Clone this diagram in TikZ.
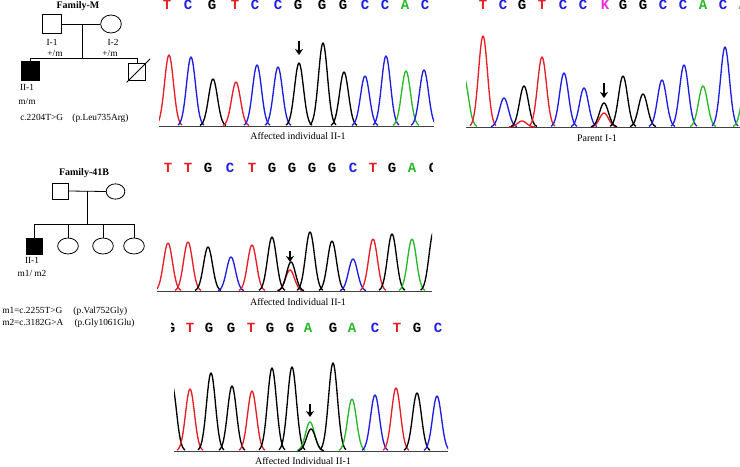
\documentclass[tikz,border=0pt]{standalone}
\usepackage{fontspec}
\setmainfont{Liberation Serif}
\newfontfamily\seqfont{Liberation Mono}
\usetikzlibrary{shapes.geometric,arrows.meta,positioning,calc}

\definecolor{trred}{RGB}{232,30,38}
\definecolor{trblue}{RGB}{30,30,225}
\definecolor{trgreen}{RGB}{40,185,40}
\definecolor{trmag}{RGB}{230,50,220}

\begin{document}
\begin{tikzpicture}[
    x=0.75pt, y=-0.75pt,
    font=\fontsize{7}{8}\selectfont,
    male/.style={draw, line width=0.6pt, minimum size=14pt, inner sep=0pt},
    female/.style={draw, ellipse, line width=0.6pt, minimum width=15pt, minimum height=13pt, inner sep=0pt},
    affected/.style={male, fill=black},
    famlabel/.style={font=\fontsize{7.5}{9}\selectfont\bfseries, inner sep=0pt},
    tag/.style={inner sep=0pt},
    caption/.style={font=\fontsize{7.5}{9}\selectfont, inner sep=0pt},
    nucleotide/.style={font=\seqfont\bfseries\fontsize{10.5}{11}\selectfont, inner sep=0pt},
    trace/.style={line width=1pt, line join=round},
    axisline/.style={line width=0.6pt, black!75},
    mutarrow/.style={-{Stealth[length=4.5pt, width=6pt]}, line width=1.1pt},
    link/.style={line width=0.6pt}
]
\fill[white] (0,0) rectangle (740,467);
\useasboundingbox (0,0) rectangle (740,467);

% Family-M pedigree
\node[famlabel] (famM) at (78,6) {Family-M};
\node[male] (mI1) at (52,24) {};
\node[female, minimum width=15.5pt, minimum height=13.5pt] (mI2) at (111,24) {};
\draw[link] (mI1.east) -- (mI2.west);
\coordinate (mMid) at (82,24);
\coordinate (mSibL) at (30.5,58);
\coordinate (mSibR) at (137,58);
\draw[link] (mMid) -- (mMid |- mSibL);
\draw[link] (mSibL) -- (mSibR);
\node[affected] (mII1) at (30.5,71) {};
\node[male, minimum size=13pt] (mII2) at (137,72) {};
\draw[link] (mSibL) -- (mII1.north);
\draw[link] (mSibR) -- (mII2.north);
\draw[link] ($(mII2.south west)+(-1pt,-1pt)$) -- ($(mII2.north east)+(3pt,3pt)$);
\node[tag] (mI1name) at (52,42) {I-1};
\node[tag] (mI1gt) at (55,53) {+/m};
\node[tag] (mI2name) at (113,42) {I-2};
\node[tag] (mI2gt) at (110,53) {+/m};
\node[tag] (mII1name) at (27,87) {II-1};
\node[tag] (mII1gt) at (27,101) {m/m};
\node[tag, anchor=west] (mVar) at (20,118) {c.2204T>G\quad(p.Leu735Arg)};

% Family-41B pedigree
\node[famlabel] (famB) at (84,173) {Family-41B};
\node[male, minimum size=12pt] (bI1) at (60,191) {};
\node[female, minimum width=14pt, minimum height=11.5pt] (bI2) at (115.5,191.5) {};
\draw[link] (bI1.east) -- (bI2.west);
\coordinate (bMid) at (87,191);
\coordinate (bSibL) at (34,224);
\coordinate (bSibR) at (134,224);
\draw[link] (bMid) -- (bMid |- bSibL);
\draw[link] (bSibL) -- (bSibR);
\node[affected, minimum size=12pt] (bII1) at (34,246) {};
\node[female, minimum width=15.5pt, minimum height=12pt] (bII2) at (68,246) {};
\node[female, minimum width=15.5pt, minimum height=12pt] (bII3) at (103,246) {};
\node[female, minimum width=15.5pt, minimum height=12pt] (bII4) at (134,246) {};
\foreach \k in {bII1,bII2,bII3,bII4}
  \draw[link] (\k.north |- bSibL) -- (\k.north);
\node[tag] (bII1name) at (32,260) {II-1};
\node[tag] (bII1gt) at (32,273) {m1/ m2};
\node[tag, anchor=west] (bVar1) at (2,311) {m1=c.2255T>G\hspace{1.2em}(p.Val752Gly)};
\node[tag, anchor=west] (bVar2) at (2,323) {m2=c.3182G>A\hspace{1.2em}(p.Gly1061Glu)};

% trace of affected individual, Family-M
\begin{scope}
  \clip (159,0) rectangle (434,130);
  \draw[axisline] (159,126) -- (434,126);
  \foreach \px/\py/\c in {169/55/trred, 191/57/trblue, 213/79/black, 236/82/trred,
      257/65/trblue, 278/67/trblue, 299/63/black, 323/43/black, 344/72/black,
      365/76/trblue, 386/56/trblue, 406/71/trgreen, 424/70/trblue}
    \draw[trace, \c] plot[domain=-13:13, samples=35] ({\px+\x},{126-(126-\py)*exp(-(\x*\x)/40)});
  \foreach \lx/\l/\c [count=\i] in {167/T/trred, 188/C/trblue, 212/G/black, 235/T/trred,
      255/C/trblue, 278/C/trblue, 298/G/black, 322/G/black, 343/G/black, 365/C/trblue,
      385/C/trblue, 405/A/trgreen, 425/C/trblue}
    \node[nucleotide, text=\c] (seqA\i) at (\lx,5) {\l};
\end{scope}
\draw[mutarrow] (299,41) -- (299,55);
\node[caption] (capA) at (298,136) {Affected individual II-1};

% trace of parent I-1
\begin{scope}
  \clip (466,0) rectangle (740,131);
  \draw[axisline] (466,127) -- (740,127);
  \foreach \px/\py/\c in {464/78/trgreen, 483/36/trred, 504/98/trblue, 522/121/trred,
      524/86/black, 542/57/trred, 564/73/trblue, 584/88/trblue, 604/113/trred,
      604/103/black, 623/76/black, 643/94/black, 662/80/trblue, 684/65/trblue,
      703/86/trgreen, 725/47/trblue, 746/85/trgreen}
    \draw[trace, \c] plot[domain=-13:13, samples=35] ({\px+\x},{127-(127-\py)*exp(-(\x*\x)/40)});
  \foreach \lx/\l/\c [count=\i] in {462/A/trgreen, 483/T/trred, 503/C/trblue, 522/G/black,
      542/T/trred, 563/C/trblue, 583/C/trblue, 605/K/trmag, 623/G/black, 643/G/black,
      663/C/trblue, 683/C/trblue, 703/A/trgreen, 723/C/trblue, 743/A/trgreen}
    \node[nucleotide, text=\c] (seqB\i) at (\lx,5) {\l};
\end{scope}
\draw[mutarrow] (604,83) -- (604,98);
\node[caption] (capB) at (597,138) {Parent I-1};

% trace of affected individual, Family-41B, m1
\begin{scope}
  \clip (157,150) rectangle (432,295);
  \draw[axisline] (157,291) -- (432,291);
  \foreach \px/\py/\c in {168/243/trred, 188/242/trred, 208/247/black, 231/257/trblue,
      252/245/trred, 272/237/black, 290/270/trred, 291/262/black, 310/232/black,
      332/241/black, 353/259/trblue, 373/239/trred, 392/234/black, 412/239/trgreen,
      433.5/232/black}
    \draw[trace, \c] plot[domain=-13:13, samples=35] ({\px+\x},{291-(291-\py)*exp(-(\x*\x)/40)});
  \foreach \lx/\l/\c [count=\i] in {168/T/trred, 188/T/trred, 208/G/black, 230/C/trblue,
      252/T/trred, 272/G/black, 292/G/black, 312/G/black, 332/G/black, 353/C/trblue,
      373/T/trred, 392/G/black, 412/A/trgreen, 433/C/black}
    \node[nucleotide, text=\c] (seqC\i) at (\lx,168) {\l};
\end{scope}
\draw[mutarrow] (290,251) -- (290,262);
\node[caption] (capC) at (298,302) {Affected Individual II-1};

% trace of affected individual, Family-41B, m2
\begin{scope}
  \clip (171,310) rectangle (448,455);
  \draw[axisline] (174,451) -- (448,451);
  \begin{scope}
    \clip (174,360) rectangle (448,455);
    \foreach \px/\py/\c in {172/385/black, 190/389/trred, 211/373/black, 232/386/black,
        252/391/trred, 272/368/black, 292/367/black, 310/422/trgreen, 311/429/black,
        333/363/black, 352/399/trgreen, 375/395/trblue, 396/388/trred, 417/393/black,
        437/396/trblue}
      \draw[trace, \c] plot[domain=-13:13, samples=35] ({\px+\x},{451-(451-\py)*exp(-(\x*\x)/40)});
  \end{scope}
  \foreach \lx/\l/\c [count=\i] in {171/G/black, 190/T/trred, 209/G/black, 231/G/black,
      251/T/trred, 270/G/black, 290/G/black, 308/A/trgreen, 333/G/black, 352/A/trgreen,
      375/C/trblue, 397/T/trred, 417/G/black, 438/C/trblue}
    \node[nucleotide, text=\c] (seqD\i) at (\lx,328) {\l};
\end{scope}
\draw[mutarrow] (310,404) -- (310,417);
\node[caption] (capD) at (303,461) {Affected Individual II-1};
\end{tikzpicture}
\end{document}
